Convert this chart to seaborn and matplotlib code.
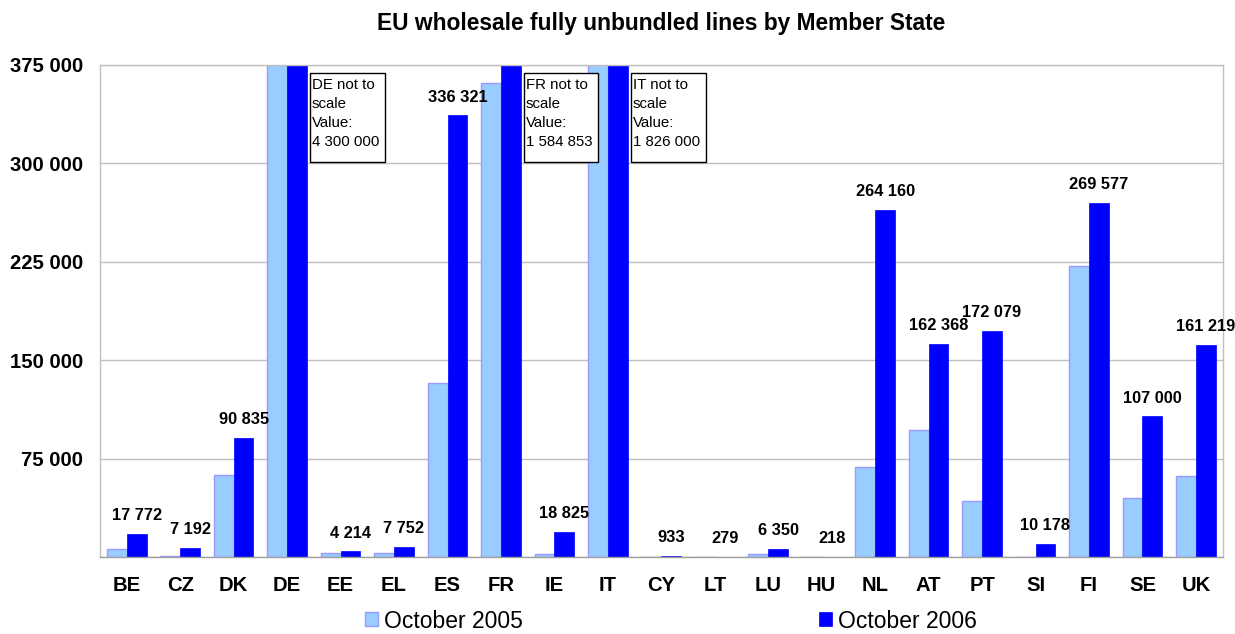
import matplotlib
matplotlib.use("Agg")
import matplotlib.pyplot as plt
from matplotlib.patches import Patch, Rectangle
from matplotlib.transforms import IdentityTransform
import seaborn as sns
import pandas as pd

# Member States in reporting order
countries = ["BE", "CZ", "DK", "DE", "EE", "EL", "ES", "FR", "IE", "IT", "CY",
             "LT", "LU", "HU", "NL", "AT", "PT", "SI", "FI", "SE", "UK"]

# Fully unbundled lines, October 2005
lines_2005 = [6400, 800, 62400, 3200000, 3100, 3300, 132800, 361000, 2000, 800000, 0,
              0, 2500, 0, 68500, 96700, 42600, 0, 221600, 44900, 61700]

# Fully unbundled lines, October 2006
lines_2006 = [17772, 7192, 90835, 4300000, 4214, 7752, 336321, 1584853, 18825, 1826000, 933,
              279, 6350, 218, 264160, 162368, 172079, 10178, 269577, 107000, 161219]

periods = ["October 2005", "October 2006"]
y_ticks = [0, 75000, 150000, 225000, 300000, 375000]
y_max = 375000

# Countries whose 2006 bar runs off the scale
off_scale = ["DE", "FR", "IT"]

light, light_edge, dark = "#99CCFF", "#9999FF", "#0000FF"


def spaced(v):
    return f"{v:,.0f}".replace(",", " ")


df = pd.DataFrame({
    "country": countries * 2,
    "lines": lines_2005 + lines_2006,
    "period": [periods[0]] * len(countries) + [periods[1]] * len(countries),
})

sns.set_theme(style="white")
plt.rcParams["font.family"] = ["Liberation Sans", "DejaVu Sans"]
plt.rcParams["text.color"] = "black"
plt.rcParams["xtick.color"] = "black"
plt.rcParams["ytick.color"] = "black"

fig = plt.figure(figsize=(12.35, 6.34), dpi=100)
ax = fig.add_axes([0.081, 0.1215, 0.909, 0.7765])

sns.barplot(data=df, x="country", y="lines", hue="period", order=countries,
            hue_order=periods, palette=[light, dark], width=0.74, gap=0,
            saturation=1, errorbar=None, legend=False, ax=ax)

for patch in ax.containers[0]:
    patch.set_edgecolor(light_edge)
    patch.set_linewidth(1.0)
for patch in ax.containers[1]:
    patch.set_edgecolor(dark)
    patch.set_linewidth(0.5)

ax.set_ylim(0, y_max)
ax.set_xlim(-0.5, len(countries) - 0.5)
ax.set_yticks(y_ticks)
ax.set_yticklabels(["" if t == 0 else spaced(t) for t in y_ticks])
ax.yaxis.grid(True, color="#C0C0C0", linewidth=1.0)
ax.set_axisbelow(True)
for side in ["left", "bottom", "right", "top"]:
    ax.spines[side].set_color("#C0C0C0")
    ax.spines[side].set_linewidth(1.0)
ax.spines["bottom"].set_color("#A0A0A0")
ax.tick_params(axis="both", length=0)
ax.tick_params(axis="y", pad=12, labelsize=14.6, labelcolor="black")
ax.tick_params(axis="x", pad=14, labelsize=14.6, labelcolor="black")
for lbl in ax.get_xticklabels() + ax.get_yticklabels():
    lbl.set_fontweight("bold")
ax.set_xlabel("")
ax.set_ylabel("")

ax.set_title("EU wholesale fully unbundled lines by Member State",
             fontsize=16.4, fontweight="bold", pad=25, color="black")

# Value labels on the 2006 bars, notes beside the off-scale ones
notes = []
for country, value, patch in zip(countries, lines_2006, ax.containers[1]):
    cx = patch.get_x() + patch.get_width() / 2
    if country in off_scale:
        right = patch.get_x() + patch.get_width()
        note = ax.annotate(f"{country} not to\nscale\nValue:\n{spaced(value)}",
                           xy=(right, y_max), xytext=(5, -13.5), textcoords="offset pixels",
                           ha="left", va="top", fontsize=10.8, linespacing=1.45,
                           annotation_clip=False, zorder=6)
        notes.append(note)
    else:
        ax.annotate(spaced(value), xy=(cx, value), xytext=(0, 10),
                    textcoords="offset points", ha="center", va="baseline",
                    fontsize=11.8, fontweight="bold")

# Frame each note with a white box, a little deeper below the text than above it
fig.canvas.draw()
renderer = fig.canvas.get_renderer()
for note in notes:
    bb = note.get_window_extent(renderer)
    x0, x1 = bb.x0 - 2, bb.x1 + 6
    y0, y1 = bb.y0 - 13, bb.y1 + 5
    frame = Rectangle((x0, y0), x1 - x0, y1 - y0, transform=IdentityTransform(),
                      facecolor="white", edgecolor="black", linewidth=1,
                      zorder=5, clip_on=False)
    ax.add_artist(frame)

handles = [Patch(facecolor=light, edgecolor=light_edge, linewidth=1),
           Patch(facecolor=dark, edgecolor=dark, linewidth=0.5)]
fig.legend(handles, periods, loc="center left", bbox_to_anchor=(365 / 1235, 1 - 621 / 634),
           ncol=2, frameon=False, fontsize=16.5, handlelength=0.55, handleheight=0.55,
           handletextpad=0.3, columnspacing=12.9, borderpad=0, borderaxespad=0)

fig.savefig("out.png", dpi=100, facecolor="white")
